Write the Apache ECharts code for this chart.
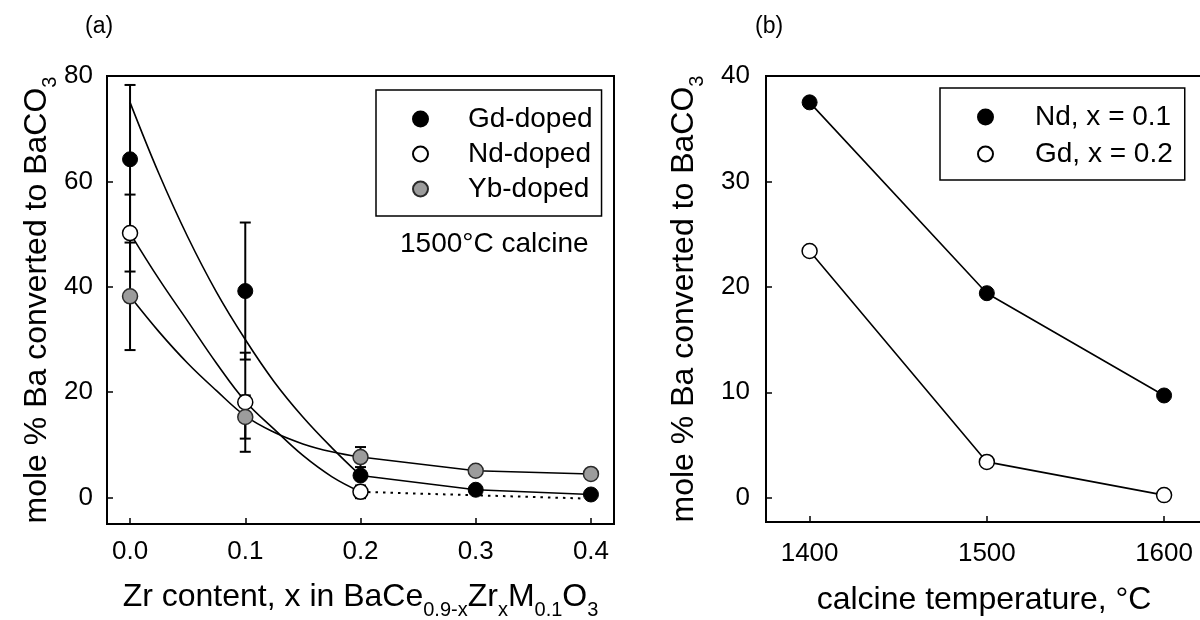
<!DOCTYPE html>
<html><head><meta charset="utf-8">
<script src="https://cdn.jsdelivr.net/npm/echarts@6/dist/echarts.min.js"></script>
<style>html,body{margin:0;padding:0;background:#fff}#c{width:1200px;height:620px}</style>
</head><body><div id="c"></div>
<script>
// ---------- data ----------
const zrX = [0, 0.1, 0.2, 0.3, 0.4];
const gdVals = [64.2, 39.2, 4.2, 1.5, 0.6];
const gdErr = [14.1, 13.0, null, null, null];
const ndX = [0, 0.1, 0.2];
const ndVals = [50.2, 18.1, 1.1];
const ndErr = [7.3, 9.4, 1.2];
const ybVals = [38.2, 15.3, 7.7, 5.1, 4.5];
const ybErr = [10.2, 4.1, 1.9, null, null];

// fitted curves
const fitX = [0, 0.025, 0.05, 0.075, 0.1, 0.125, 0.15, 0.175, 0.2];
const gdFit = [75, 61.5, 49.5, 39, 30, 22, 15.3, 9.5, 4.2];
const ndFit = [50.2, 41.5, 33.5, 25.5, 18.3, 13, 8, 4, 1.1];
const ybFit = [38.2, 31.5, 25.5, 20.3, 15.5, 12.4, 10.2, 8.7, 7.7];
const ndTailX = [0.2, 0.4];
const ndTail = [1.1, -0.2];

const tempX = [1400, 1500, 1600];
const ndTemp = [37.5, 19.4, 9.7];
const gdTemp = [23.4, 3.4, 0.25];

const zrTicks = [0, 0.1, 0.2, 0.3, 0.4];
const yTicksA = [0, 20, 40, 60, 80];
const tempTicks = [1400, 1500, 1600];
const yTicksB = [0, 10, 20, 30, 40];

// ---------- helpers ----------
const FONT = "'Liberation Sans', Arial, Helvetica, sans-serif";
const zip = (xs, ys) => xs.map((x, i) => [x, ys[i]]);
function errRows(xs, vals, errs) {
  const out = [];
  xs.forEach((x, i) => { if (errs[i] != null) out.push([x, vals[i] - errs[i], vals[i] + errs[i]]); });
  return out;
}
const errData = [].concat(errRows(zrX, gdVals, gdErr), errRows(ndX, ndVals, ndErr), errRows(zrX, ybVals, ybErr));

const blackDot = { color: '#000', borderColor: '#000', borderWidth: 1, opacity: 1 };
const openDot = { color: '#fff', borderColor: '#000', borderWidth: 1.5, opacity: 1 };
const grayDot = { color: '#9c9c9c', borderColor: '#2a2a2a', borderWidth: 1.5, opacity: 1 };
const lineS = { color: '#000', width: 1.6 };

const subRich = { s: { fontSize: 20, lineHeight: 20, padding: [27, 0, 0, 0], fontFamily: FONT, color: '#000' } };

function axisBase(o) {
  return Object.assign({
    type: 'value', nameLocation: 'middle',
    splitLine: { show: false },
    axisLine: { onZero: false, lineStyle: { color: '#000', width: 2 } },
    axisTick: { inside: true, length: 6, lineStyle: { color: '#000', width: 1.5 } },
    axisLabel: { fontSize: 26, color: '#000', fontFamily: FONT },
    nameTextStyle: { fontSize: 32, color: '#000', fontFamily: FONT, rich: subRich }
  }, o);
}

const chart = echarts.init(document.getElementById('c'), null, { renderer: 'canvas' });
chart.setOption({
  animation: false,
  backgroundColor: '#fff',
  textStyle: { fontFamily: FONT },
  title: [
    { text: '(a)', left: 80, top: 10, textStyle: { fontSize: 23, fontWeight: 'normal', color: '#000', fontFamily: FONT } },
    { text: '(b)', left: 750, top: 10, textStyle: { fontSize: 23, fontWeight: 'normal', color: '#000', fontFamily: FONT } },
    { text: '1500°C calcine', left: 395, top: 225, textStyle: { fontSize: 28, fontWeight: 'normal', color: '#000', fontFamily: FONT } }
  ],
  grid: [
    { left: 107, top: 76, width: 507, height: 448, containLabel: false, outerBoundsMode: 'none', show: true, borderColor: '#000', borderWidth: 2, backgroundColor: 'transparent' },
    { left: 766, top: 76, width: 436, height: 446, containLabel: false, outerBoundsMode: 'none', show: true, borderColor: '#000', borderWidth: 2, backgroundColor: 'transparent' }
  ],
  legend: [
    {
      orient: 'vertical', left: 376, top: 90,
      data: [{ name: 'Gd-doped', icon: 'circle' }, { name: 'Nd-doped', icon: 'circle' }, { name: 'Yb-doped', icon: 'circle' }],
      itemWidth: 15, itemHeight: 15, itemGap: 7,
      padding: [15, 9, 13, 36],
      borderColor: '#000', borderWidth: 1.5,
      textStyle: { fontSize: 28, lineHeight: 28, color: '#000', fontFamily: FONT, padding: [0, 0, 0, 35] },
      selectedMode: false
    },
    {
      orient: 'vertical', left: 940, top: 88,
      data: [{ name: 'Nd, x = 0.1', icon: 'circle' }, { name: 'Gd, x = 0.2', icon: 'circle' }],
      itemWidth: 15, itemHeight: 15, itemGap: 9,
      padding: [15, 12, 12, 37],
      borderColor: '#000', borderWidth: 1.5,
      textStyle: { fontSize: 28, lineHeight: 28, color: '#000', fontFamily: FONT, padding: [0, 0, 0, 37] },
      selectedMode: false
    }
  ],
  xAxis: [
    axisBase({
      gridIndex: 0, min: -0.02, max: 0.42,
      axisTick: { inside: true, length: 6, customValues: zrTicks, lineStyle: { color: '#000', width: 1.5 } },
      axisLabel: { customValues: zrTicks, formatter: v => Number(v).toFixed(1), fontSize: 26, color: '#000', fontFamily: FONT, margin: 15 },
      name: 'Zr content, x in BaCe{s|0.9-x}Zr{s|x}M{s|0.1}O{s|3}',
      nameGap: 57
    }),
    axisBase({
      gridIndex: 1, min: 1375.4, max: 1621.4,
      axisTick: { inside: true, length: 6, customValues: tempTicks, lineStyle: { color: '#000', width: 1.5 } },
      axisLabel: { customValues: tempTicks, formatter: v => String(Math.round(v)), fontSize: 26, color: '#000', fontFamily: FONT, margin: 19 },
      name: 'calcine temperature, °C',
      nameGap: 62
    })
  ],
  yAxis: [
    axisBase({
      gridIndex: 0, min: -5, max: 80,
      axisTick: { inside: true, length: 6, customValues: yTicksA, lineStyle: { color: '#000', width: 1.5 } },
      axisLabel: { customValues: yTicksA, fontSize: 26, color: '#000', fontFamily: FONT, margin: 14 },
      name: 'mole % Ba converted to BaCO{s|3}',
      nameGap: 52
    }),
    axisBase({
      gridIndex: 1, min: -2.3, max: 40,
      axisTick: { inside: true, length: 6, customValues: yTicksB, lineStyle: { color: '#000', width: 1.5 } },
      axisLabel: { customValues: yTicksB, fontSize: 26, color: '#000', fontFamily: FONT, margin: 16 },
      name: 'mole % Ba converted to BaCO{s|3}',
      nameGap: 66
    })
  ],
  series: [
    { name: 'Gd fit', type: 'line', xAxisIndex: 0, yAxisIndex: 0, data: zip(fitX, gdFit), smooth: 0.4, showSymbol: false, lineStyle: lineS, z: 2, silent: true },
    { name: 'Nd fit', type: 'line', xAxisIndex: 0, yAxisIndex: 0, data: zip(fitX, ndFit), smooth: 0.4, showSymbol: false, lineStyle: lineS, z: 2, silent: true },
    { name: 'Yb fit', type: 'line', xAxisIndex: 0, yAxisIndex: 0, data: zip(fitX, ybFit), smooth: 0.4, showSymbol: false, lineStyle: lineS, z: 2, silent: true },
    { name: 'Gd tail', type: 'line', xAxisIndex: 0, yAxisIndex: 0, data: zip(zrX.slice(2), gdVals.slice(2)), showSymbol: false, lineStyle: lineS, z: 2, silent: true },
    { name: 'Yb tail', type: 'line', xAxisIndex: 0, yAxisIndex: 0, data: zip(zrX.slice(2), ybVals.slice(2)), showSymbol: false, lineStyle: lineS, z: 2, silent: true },
    { name: 'Nd tail', type: 'line', xAxisIndex: 0, yAxisIndex: 0, data: zip(ndTailX, ndTail), showSymbol: false, lineStyle: { color: '#000', width: 2, type: [2.5, 5] }, z: 2, silent: true },
    {
      name: 'error', type: 'custom', xAxisIndex: 0, yAxisIndex: 0, data: errData, z: 3, silent: true,
      encode: { x: 0, y: [1, 2] },
      renderItem: function (params, api) {
        const x = api.value(0);
        const lo = api.coord([x, api.value(1)]);
        const hi = api.coord([x, api.value(2)]);
        const w = 5.5;
        const st = { stroke: '#000', lineWidth: 2 };
        return {
          type: 'group', children: [
            { type: 'line', shape: { x1: lo[0], y1: lo[1], x2: hi[0], y2: hi[1] }, style: st },
            { type: 'line', shape: { x1: lo[0] - w, y1: lo[1], x2: lo[0] + w, y2: lo[1] }, style: st },
            { type: 'line', shape: { x1: hi[0] - w, y1: hi[1], x2: hi[0] + w, y2: hi[1] }, style: st }
          ]
        };
      }
    },
    { name: 'Gd-doped', type: 'scatter', xAxisIndex: 0, yAxisIndex: 0, data: zip(zrX, gdVals), symbol: 'circle', symbolSize: 15, itemStyle: blackDot, z: 5 },
    { name: 'Nd-doped', type: 'scatter', xAxisIndex: 0, yAxisIndex: 0, data: zip(ndX, ndVals), symbol: 'circle', symbolSize: 15, itemStyle: openDot, z: 5 },
    { name: 'Yb-doped', type: 'scatter', xAxisIndex: 0, yAxisIndex: 0, data: zip(zrX, ybVals), symbol: 'circle', symbolSize: 15, itemStyle: grayDot, z: 5 },
    { name: 'Nd, x = 0.1', type: 'line', xAxisIndex: 1, yAxisIndex: 1, data: zip(tempX, ndTemp), symbol: 'circle', symbolSize: 15, showSymbol: true, itemStyle: blackDot, lineStyle: lineS, z: 5 },
    { name: 'Gd, x = 0.2', type: 'line', xAxisIndex: 1, yAxisIndex: 1, data: zip(tempX, gdTemp), symbol: 'circle', symbolSize: 15, showSymbol: true, itemStyle: openDot, lineStyle: lineS, z: 5 }
  ]
});
</script>
</body></html>
